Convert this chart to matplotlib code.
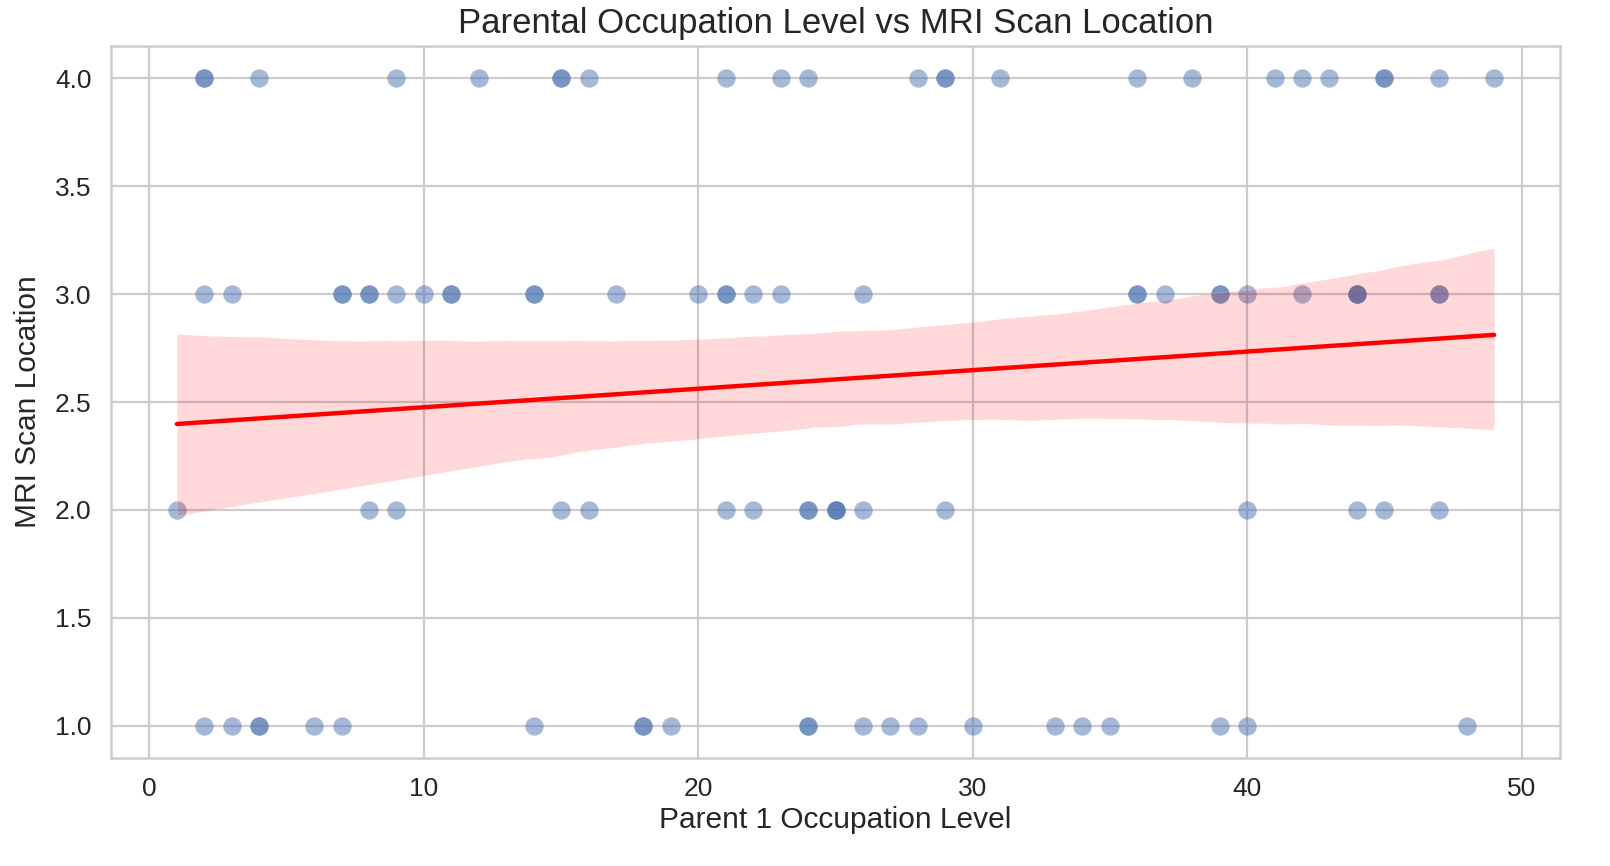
import numpy as np
import pandas as pd
import matplotlib
matplotlib.use("Agg")
import matplotlib.pyplot as plt
from matplotlib.path import Path
import seaborn as sns

# Parent 1 occupation level (x) and MRI scan location (y), grouped by scan location
occ_loc4 = [2, 2, 4, 9, 12, 15, 15, 16, 21, 23, 24, 28, 29, 29, 31, 36, 38, 41, 42, 43, 45, 45, 47, 49]
occ_loc3 = [2, 3, 7, 7, 8, 8, 9, 10, 11, 11, 14, 14, 17, 20, 21, 21, 22, 23, 26, 36, 36, 37,
            39, 39, 40, 42, 44, 44, 44, 47, 47]
occ_loc2 = [1, 8, 9, 15, 16, 21, 22, 24, 24, 25, 25, 25, 26, 29, 40, 44, 45, 47]
occ_loc1 = [2, 3, 4, 4, 6, 7, 14, 18, 18, 19, 24, 24, 26, 27, 28, 30, 33, 34, 35, 39, 40, 48]

x_vals = occ_loc4 + occ_loc3 + occ_loc2 + occ_loc1
y_vals = [4.0] * len(occ_loc4) + [3.0] * len(occ_loc3) + [2.0] * len(occ_loc2) + [1.0] * len(occ_loc1)
df = pd.DataFrame({"Parent 1 Occupation Level": x_vals, "MRI Scan Location": y_vals})

sns.set_theme(style="whitegrid")
plt.rcParams["font.family"] = ["Liberation Sans", "DejaVu Sans"]

fig = plt.figure(figsize=(16.1, 8.66), dpi=100)
ax = fig.add_axes([111 / 1610, 1 - 758 / 866, (1560 - 111) / 1610, (758 - 46) / 866])

# slightly elliptical marker, as in the reference
t = np.linspace(0, 2 * np.pi, 60)
ell = Path(np.column_stack([np.cos(t), 0.74 * np.sin(t)]), closed=True)

sns.regplot(data=df, x="Parent 1 Occupation Level", y="MRI Scan Location", ax=ax,
            scatter_kws={"alpha": 0.5, "s": 175, "marker": ell, "linewidths": 0},
            line_kws={"color": "red", "lw": 3.2}, seed=3)

ax.set_title("Parental Occupation Level vs MRI Scan Location", fontsize=25, pad=9)
ax.set_xlabel("Parent 1 Occupation Level", fontsize=21.5, labelpad=3)
ax.set_ylabel("MRI Scan Location", fontsize=21.5, labelpad=9)
ax.tick_params(axis="both", labelsize=19, length=0, pad=14, colors="#262626")
ax.grid(True, color="#cccccc", linewidth=1.6)
for s in ax.spines.values():
    s.set_color("#cccccc")
    s.set_linewidth(1.8)

fig.savefig("out.png", dpi=100)
